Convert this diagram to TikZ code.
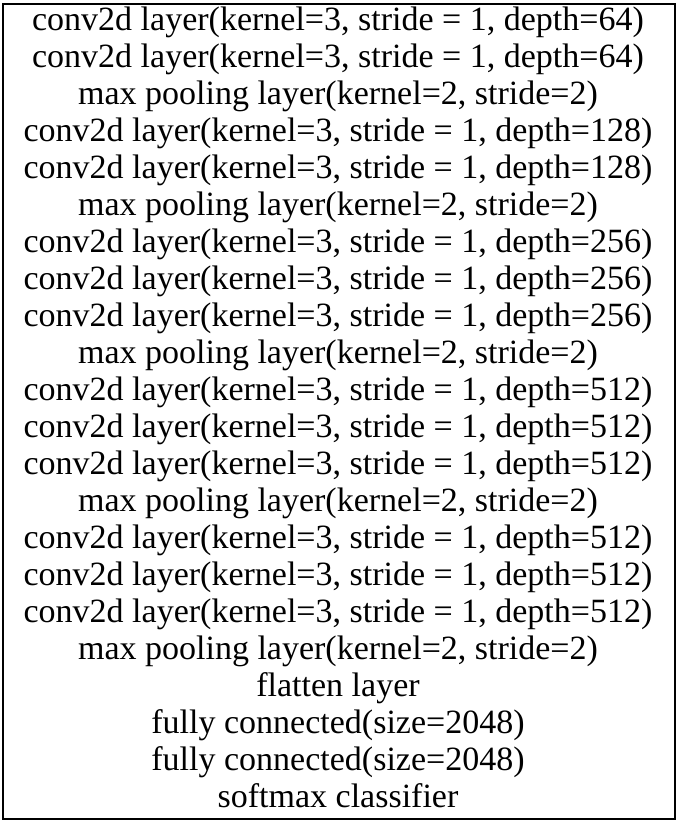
\documentclass[tikz,border=0pt]{standalone}
\usepackage{fontspec}
\setmainfont{Liberation Serif}
\begin{document}
\begin{tikzpicture}[x=1pt,y=-1pt,
  layer/.style={anchor=base,inner sep=0pt,font=\fontsize{34}{40}\selectfont}]
\useasboundingbox (0,0) rectangle (676,820);
\node[draw,line width=2pt,minimum width=672pt,minimum height=815pt,anchor=north west,inner sep=0pt] (frame) at (2,3) {};
\foreach \t [count=\i from 0] in {
  {conv2d layer(kernel=3, stride = 1, depth=64)},
  {conv2d layer(kernel=3, stride = 1, depth=64)},
  {max pooling layer(kernel=2, stride=2)},
  {conv2d layer(kernel=3, stride = 1, depth=128)},
  {conv2d layer(kernel=3, stride = 1, depth=128)},
  {max pooling layer(kernel=2, stride=2)},
  {conv2d layer(kernel=3, stride = 1, depth=256)},
  {conv2d layer(kernel=3, stride = 1, depth=256)},
  {conv2d layer(kernel=3, stride = 1, depth=256)},
  {max pooling layer(kernel=2, stride=2)},
  {conv2d layer(kernel=3, stride = 1, depth=512)},
  {conv2d layer(kernel=3, stride = 1, depth=512)},
  {conv2d layer(kernel=3, stride = 1, depth=512)},
  {max pooling layer(kernel=2, stride=2)},
  {conv2d layer(kernel=3, stride = 1, depth=512)},
  {conv2d layer(kernel=3, stride = 1, depth=512)},
  {conv2d layer(kernel=3, stride = 1, depth=512)},
  {max pooling layer(kernel=2, stride=2)},
  {flatten layer},
  {fully connected(size=2048)},
  {fully connected(size=2048)},
  {softmax classifier}}
  \node[layer] (l\i) at (338,{30+37*\i}) {\t};
\end{tikzpicture}
\end{document}
